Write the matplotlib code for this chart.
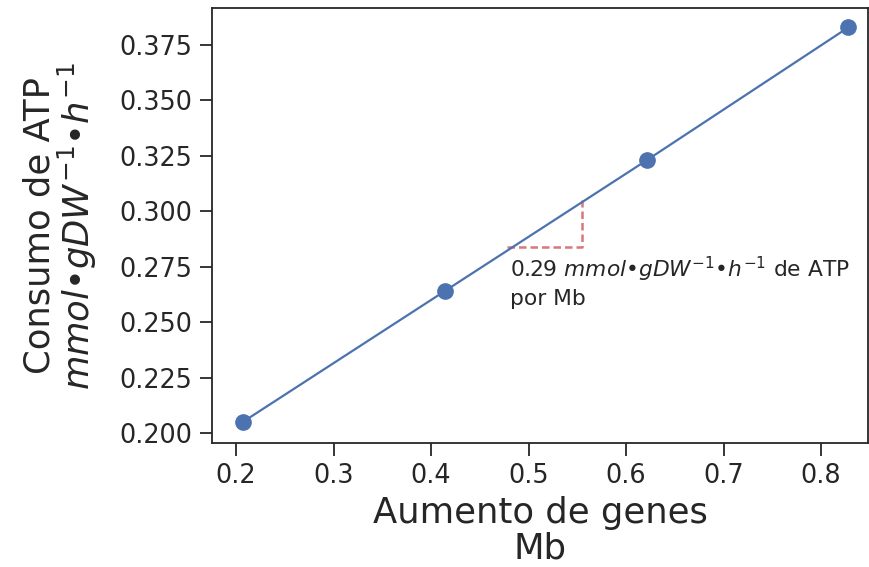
import matplotlib
matplotlib.use("Agg")
import matplotlib.pyplot as plt
import numpy as np

genes_mb = [0.207, 0.414, 0.621, 0.828]
atp = [0.205, 0.264, 0.323, 0.383]
slope_x = [0.478, 0.555]
slope_y = [0.2839, 0.305]
slope_label = "0.29 $mmol$•$gDW^{-1}$•$h^{-1}$ de ATP\npor Mb"
xticks = [0.2, 0.3, 0.4, 0.5, 0.6, 0.7, 0.8]
yticks = [0.200, 0.225, 0.250, 0.275, 0.300, 0.325, 0.350, 0.375]

txt = "#262626"
plt.rcParams['font.family'] = ['DejaVu Sans']
fig = plt.figure(figsize=(8.7, 5.67), dpi=100)
ax = fig.add_axes([0.2437, 0.2187, 0.7540, 0.7672])

ax.plot(genes_mb, atp, color="#4c72b0", lw=1.6, marker="o", ms=11, zorder=3)
ax.plot([slope_x[0], slope_x[1], slope_x[1]], [slope_y[0], slope_y[0], slope_y[1]],
        color="#d9777a", ls=(0, (3, 1.6)), lw=1.8, zorder=2)
ax.text(slope_x[0] + 0.003, slope_y[0] - 0.0035, slope_label, fontsize=15.7,
        color=txt, va="top", ha="left", linespacing=1.3)

ax.set_xlim(0.1754, 0.848)
ax.set_ylim(0.1955, 0.3917)
ax.set_xticks(xticks)
ax.set_yticks(yticks)
ax.set_xticklabels([f"{v:.1f}" for v in xticks])
ax.set_yticklabels([f"{v:.3f}" for v in yticks])
ax.tick_params(axis="both", labelsize=18.4, colors=txt, length=9, width=1.3,
               direction="out", pad=5.5)
for s in ax.spines.values():
    s.set_linewidth(1.3)
    s.set_color(txt)
ax.set_xlabel("Aumento de genes\nMb", fontsize=25.5, color=txt, labelpad=5, linespacing=1.05)
ax.set_ylabel("Consumo de ATP\n$mmol$•$gDW^{-1}$•$h^{-1}$", fontsize=25.5, color=txt,
              labelpad=14, linespacing=1.0)

fig.savefig("out.png", dpi=100)
